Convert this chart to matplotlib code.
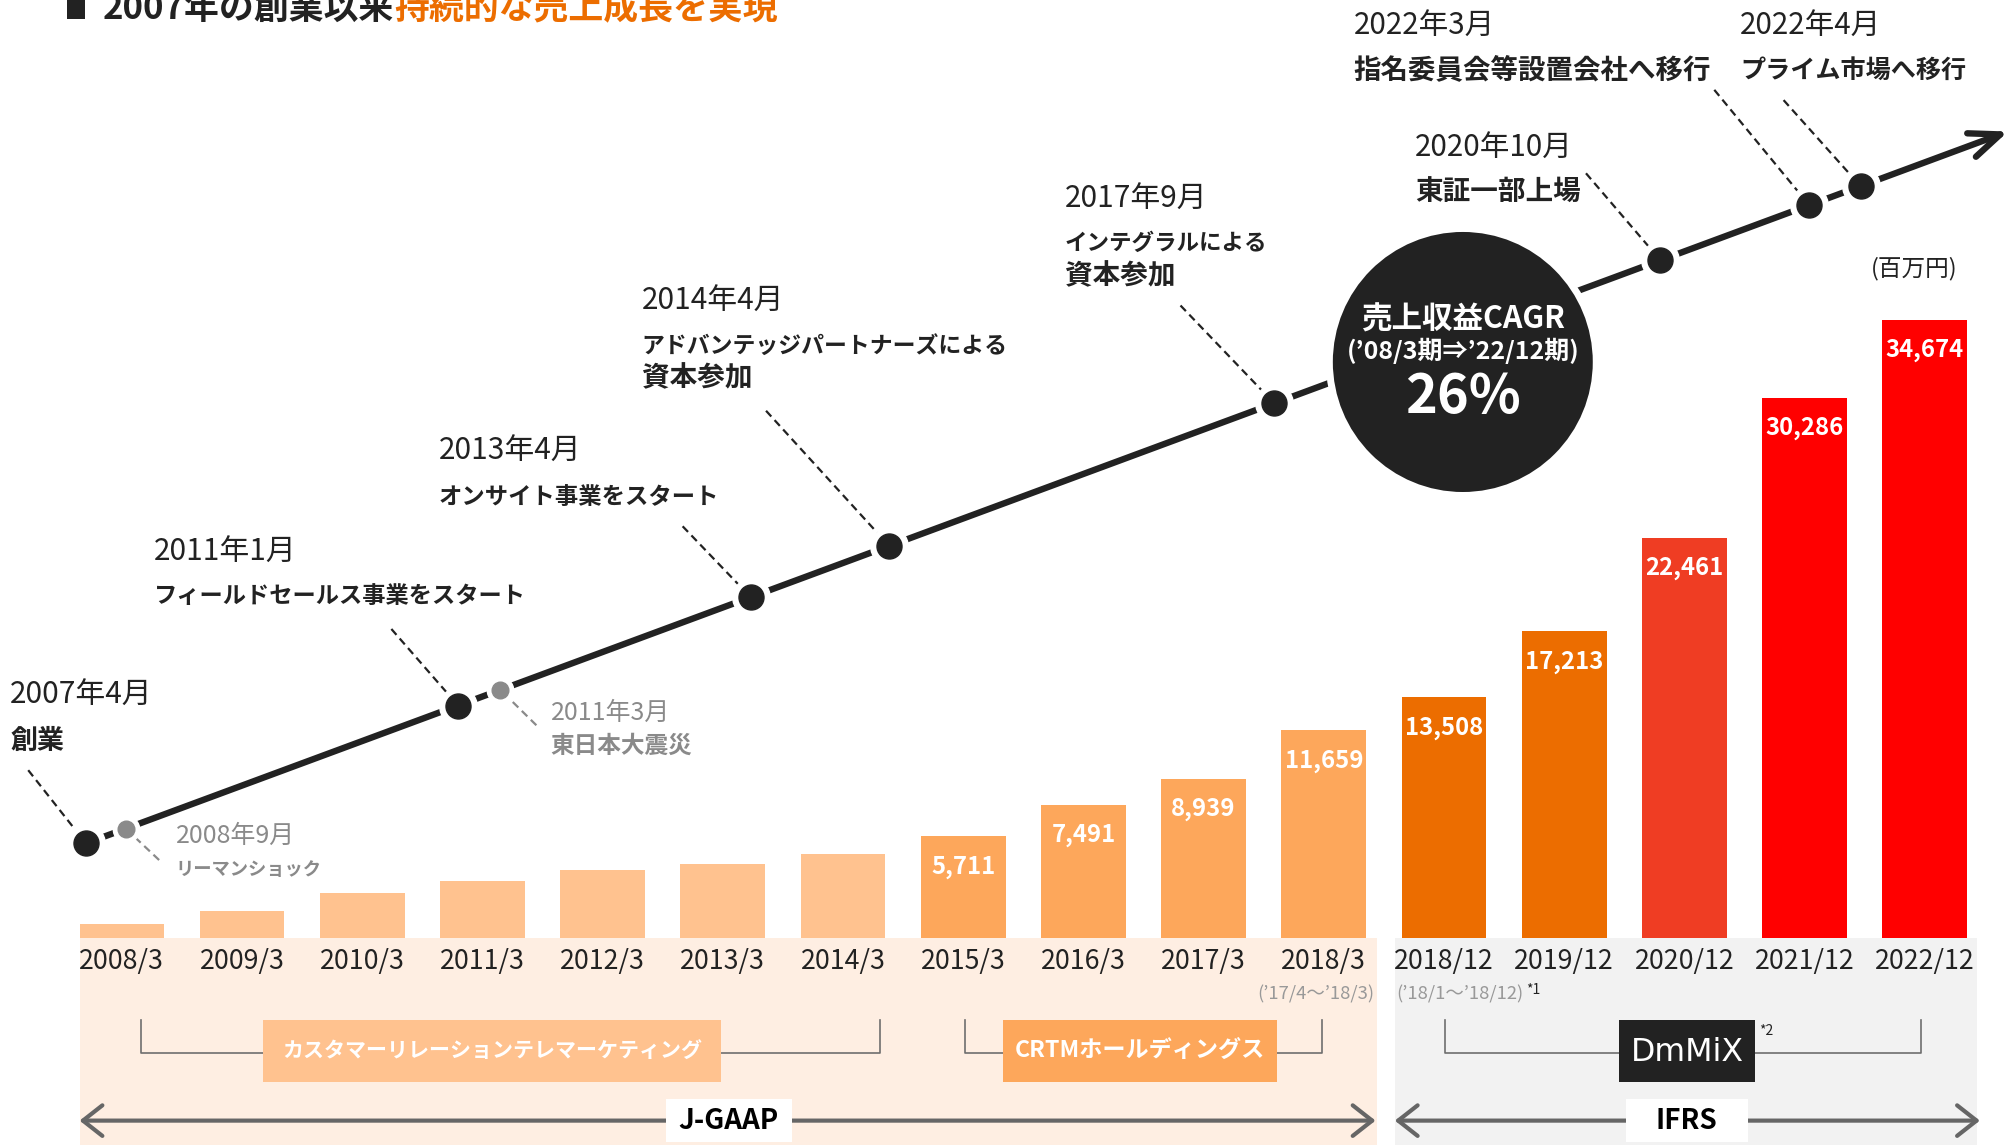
import matplotlib
matplotlib.use('Agg')
import matplotlib.pyplot as plt
from matplotlib.patches import Rectangle, Circle

plt.rcParams['font.family'] = ['Noto Sans CJK JP', 'DejaVu Sans']

# ---------------- data ----------------
periods = ['2008/3', '2009/3', '2010/3', '2011/3', '2012/3', '2013/3', '2014/3',
           '2015/3', '2016/3', '2017/3', '2018/3',
           '2018/12', '2019/12', '2020/12', '2021/12', '2022/12']
revenue = [800, 1520, 2550, 3240, 3850, 4180, 4700,
           5711, 7491, 8939, 11659,
           13508, 17213, 22461, 30286, 34674]
show_value = [False] * 7 + [True] * 9
bar_colors = ['#FFC28F'] * 7 + ['#FDA75B'] * 4 + ['#EC6D00'] * 2 + ['#EF3D23'] + ['#FF0000'] * 2

event_dates = ['2007年4月', '2008年9月', '2011年1月', '2011年3月', '2013年4月',
               '2014年4月', '2017年9月', '2020年10月', '2022年3月', '2022年4月']
event_texts = ['創業', 'リーマンショック', 'フィールドセールス事業をスタート', '東日本大震災',
               'オンサイト事業をスタート', 'アドバンテッジパートナーズによる\n資本参加',
               'インテグラルによる\n資本参加', '東証一部上場', '指名委員会等設置会社へ移行',
               'プライム市場へ移行']
event_major = [True, False, True, False, True, True, True, True, True, True]

title_a = '2007年の創業以来'
title_b = '持続的な売上成長を実現'
cagr_title = '売上収益CAGR'
cagr_period = '(’08/3期⇒’22/12期)'
cagr_value = '26%'
unit_label = '(百万円)'

# ---------------- layout (reference coords, 1568 x 892 space) ----------------
W, H = 1568, 892
FX = 2012 / W
ev_dot_x = [67, 98, 357, 390, 585, 693, 993, 1294, 1410, 1450]
ev_lab_x = [8, 137, 120, 429, 342, 500, 830, 1103, 1055, 1356]
ev_lab_y = [542, 651, 430, 555, 352, 235, 155, 115, 20, 20]
ev_lead = [(22, 600), (124, 670), (305, 490), (418, 565), (532, 410),
           (597, 320), (920, 238), (1236, 135), (1336, 70), (1390, 78)]
ev_text_w = [[42], [114], [290], [111], [218], [285, 86], [158, 86], [129], [278], [176]]
ev_date_w = [111, 96, 111, 94, 111, 111, 111, 123, 110, 110]

def line_y(x):
    return 657 - 0.3702 * (x - 67)

fig = plt.figure(figsize=(20.12, 11.45), dpi=100)
R = fig.canvas.get_renderer()

bg = fig.add_axes([0, 0, 1, 1], zorder=0)
bg.set_xlim(0, W); bg.set_ylim(H, 0); bg.axis('off')

x0c, dx = 95, (1500 - 95) / 15
base_y = 731
ytop = 40000
pix_per_unit = (731 - 249) / 34674
ax = fig.add_axes([(x0c - dx / 2) / W, (H - base_y) / H, 16 * dx / W, ytop * pix_per_unit / H], zorder=1)
ax.patch.set_alpha(0)

ov = fig.add_axes([0, 0, 1, 1], zorder=2)
ov.set_xlim(0, W); ov.set_ylim(H, 0); ov.axis('off')
ov.patch.set_alpha(0)


def fit(a, x, y, s, w, cap, **kw):
    t = a.text(x, y, s, fontsize=20, **kw)
    cur = t.get_window_extent(renderer=R).width / FX
    t.set_fontsize(min(cap, 20 * w / cur))
    return t

DARK = '#222222'
GRAY = '#8A8A8A'

# ---------------- backgrounds ----------------
bg.add_patch(Rectangle((62, 731), 1073 - 62, H - 731, facecolor='#FEEEE2', edgecolor='none'))
bg.add_patch(Rectangle((1087, 731), 1541 - 1087, H - 731, facecolor='#F2F2F2', edgecolor='none'))

# ---------------- bars ----------------
idx = list(range(len(periods)))
ax.bar(idx, revenue, width=0.705, color=bar_colors, edgecolor='none')
ax.set_xlim(-0.5, len(periods) - 0.5)
ax.set_ylim(0, ytop)
ax.set_xticks([]); ax.set_yticks([])
for s in ax.spines.values():
    s.set_visible(False)

tmp = ov.text(0, 0, '2008/3', fontsize=20)
tick_fs = 20 * 66 / (tmp.get_window_extent(renderer=R).width / FX)
tmp.remove()
for i, p in enumerate(periods):
    ax.annotate(p, xy=(i, 0), xytext=(0, -16.5), textcoords='offset points',
                ha='center', va='center', fontsize=tick_fs, color=DARK, annotation_clip=False)

tmp = ov.text(0, 0, '34,674', fontsize=20, fontweight='bold')
val_fs = 20 * 61 / (tmp.get_window_extent(renderer=R).width / FX)
tmp.remove()
for i, (v, sh) in enumerate(zip(revenue, show_value)):
    if sh:
        ax.annotate(f'{v:,}', xy=(i, v), xytext=(0, -22), textcoords='offset points',
                    ha='center', va='center', fontsize=val_fs, fontweight='bold', color='white')

# ---------------- title ----------------
ov.add_patch(Rectangle((52, -4), 14, 19, facecolor=DARK, edgecolor='none'))
ta = ov.text(80, 7, title_a, fontsize=20, fontweight='bold', color=DARK, va='center')
tb = ov.text(0, 7, title_b, fontsize=20, fontweight='bold', color='#EC6D00', va='center')
wa = ta.get_window_extent(renderer=R).width / FX
wb = tb.get_window_extent(renderer=R).width / FX
tfs = 20 * 526 / (wa + wb)
ta.set_fontsize(tfs); tb.set_fontsize(tfs)
tb.set_x(80 + wa * tfs / 20)

# ---------------- timeline ----------------
x_start, x_end = 67, 1565
ov.annotate('', xy=(x_end, line_y(x_end)), xytext=(x_start, line_y(x_start)),
            arrowprops=dict(arrowstyle='->,head_length=1.1,head_width=0.45', lw=4.6,
                            color=DARK, shrinkA=0, shrinkB=0, mutation_scale=20), zorder=3)

ov.add_patch(Circle((1140, 282), 104, facecolor=DARK, edgecolor='white', lw=5, zorder=4))
fit(ov, 1140, 249, cagr_title, 159, 24, color='white', fontweight='bold', ha='center', va='center', zorder=5)
fit(ov, 1140, 273, cagr_period, 190, 18, color='white', fontweight='bold', ha='center', va='center', zorder=5)
fit(ov, 1140, 310, cagr_value, 90, 44, color='white', fontweight='bold', ha='center', va='center', zorder=5)

for k in range(len(event_dates)):
    major = event_major[k]
    col = DARK if major else GRAY
    dx_ = ev_dot_x[k]
    dy_ = line_y(dx_)
    lx, ly = ev_lead[k]
    ov.plot([lx, dx_], [ly, dy_], color=col, lw=1.6, dashes=(3.5, 2.2), zorder=3)
    if major:
        ov.plot([dx_], [dy_], 'o', ms=27, color='white', zorder=4)
        ov.plot([dx_], [dy_], 'o', ms=18, color=DARK, zorder=5)
    else:
        ov.plot([dx_], [dy_], 'o', ms=19, color='white', zorder=4)
        ov.plot([dx_], [dy_], 'o', ms=12, color=GRAY, zorder=5)
    tx = ev_lab_x[k]
    ty = ev_lab_y[k]
    fit(ov, tx, ty, event_dates[k], ev_date_w[k], 22 if major else 18,
        color=col, ha='left', va='center', zorder=6)
    lines = event_texts[k].split('\n')
    for j, ln in enumerate(lines):
        fit(ov, tx, ty + 35 + 25 * j if major else ty + 26 + 25 * j, ln, ev_text_w[k][j],
            20 if major else 17, color=col, fontweight='bold', ha='left', va='center', zorder=6)

fit(ov, 1492, 209, unit_label, 70, 17, color=DARK, ha='center', va='center')

# ---------------- bottom annotations ----------------
fit(ov, 1071, 775, '(’17/4～’18/3)', 91, 14, color='#999999', ha='right', va='center')
fit(ov, 1088, 775, '(’18/1～’18/12)', 99, 14, color='#999999', ha='left', va='center')
ov.text(1189, 771, '*1', fontsize=10, color=DARK, ha='left', va='center')

BR = '#6E6E6E'
def bracket(x1, x2):
    ov.plot([x1, x1, x2, x2], [795, 820, 820, 795], color=BR, lw=1.2, zorder=2)

bracket(110, 686)
bracket(752, 1030)
bracket(1126, 1497)

ov.add_patch(Rectangle((205, 795), 562 - 205, 48, facecolor='#FFC28F', edgecolor='none', zorder=3))
fit(ov, 383.5, 819, 'カスタマーリレーションテレマーケティング', 327, 20, color='white',
    fontweight='bold', ha='center', va='center', zorder=4)
ov.add_patch(Rectangle((782, 795), 995 - 782, 48, facecolor='#FDA75B', edgecolor='none', zorder=3))
fit(ov, 888.5, 819, 'CRTMホールディングス', 195, 20, color='white',
    fontweight='bold', ha='center', va='center', zorder=4)
ov.add_patch(Rectangle((1262, 795), 1368 - 1262, 48, facecolor=DARK, edgecolor='none', zorder=3))
fit(ov, 1315, 820, 'DmMiX', 88, 26, color='white', ha='center', va='center', zorder=4,
    family=['DejaVu Sans'])
ov.text(1371, 803, '*2', fontsize=10, color=DARK, ha='left', va='center')

AC = '#666666'
for xa, xb, lab, bx1, bx2 in [(62, 1072, 'J-GAAP', 519, 617), (1087, 1543, 'IFRS', 1267, 1362)]:
    ov.annotate('', xy=(xb, 873), xytext=(xa, 873),
                arrowprops=dict(arrowstyle='<->,head_length=0.7,head_width=0.55', lw=3,
                                color=AC, shrinkA=0, shrinkB=0, mutation_scale=20), zorder=2)
    ov.add_patch(Rectangle((bx1, 856), bx2 - bx1, 34, facecolor='white', edgecolor='none', zorder=3))
    fit(ov, (bx1 + bx2) / 2, 873, lab, 80 if lab == 'J-GAAP' else 51, 20, color='black',
        fontweight='bold', ha='center', va='center', zorder=4)

fig.savefig('out.png', dpi=100)
